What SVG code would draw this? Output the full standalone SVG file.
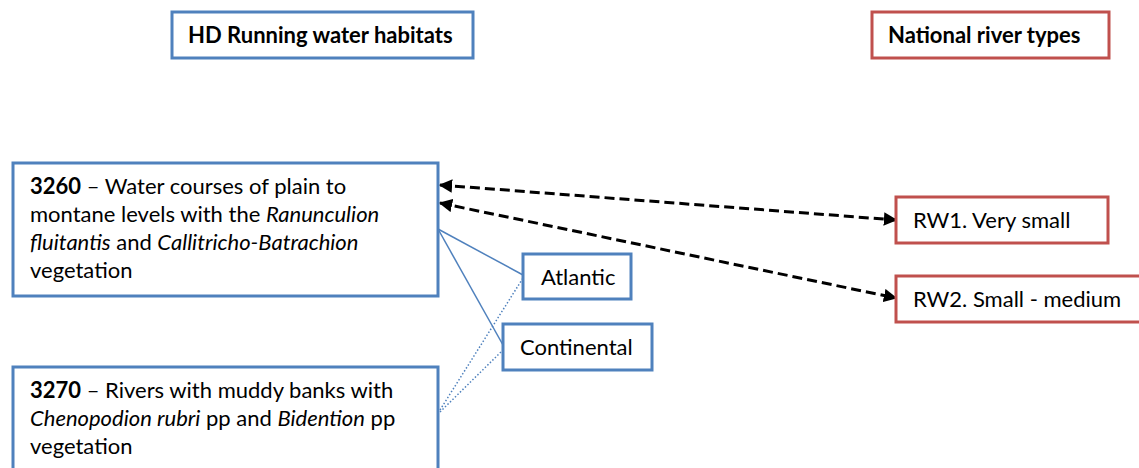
<svg xmlns="http://www.w3.org/2000/svg" width="1139" height="468" viewBox="0 0 1139 468">
<style>
text{font-family:Lato,"Liberation Sans",sans-serif;font-size:22px;fill:#000}
.b{font-weight:bold}
.i{font-style:italic}
.blue{fill:#fff;stroke:#4F81BD;stroke-width:3}
.red{fill:#fff;stroke:#C0504D;stroke-width:3}
.sl{stroke:#4F81BD;stroke-width:1.5;fill:none}
.dl{stroke:#4F81BD;stroke-width:1.5;fill:none;stroke-dasharray:1.5 2}
.da{stroke:#000;stroke-width:3;fill:none;stroke-dasharray:10 5}
</style>
<defs>
<marker id="ah" viewBox="0 0 10 10" refX="9" refY="5" markerWidth="4.5" markerHeight="4.5" orient="auto-start-reverse" markerUnits="strokeWidth">
<path d="M0,0 L10,5 L0,10 z" fill="#000"/>
</marker>
</defs>
<g id="connectors">
<line class="sl" x1="438" y1="229" x2="523" y2="275"/>
<line class="sl" x1="438" y1="229" x2="503" y2="345"/>
<line class="dl" x1="440" y1="410" x2="523" y2="278"/>
<line class="dl" x1="440" y1="412" x2="503" y2="350"/>
<line class="da" x1="440" y1="185" x2="896" y2="220" marker-start="url(#ah)" marker-end="url(#ah)"/>
<line class="da" x1="440" y1="203" x2="896" y2="298" marker-start="url(#ah)" marker-end="url(#ah)"/>
</g>
<g id="hd">
<rect class="blue" x="172" y="12" width="301" height="46"/>
<text class="b" x="188" y="43">HD Running water habitats</text>
</g>
<g id="national">
<rect class="red" x="872" y="12" width="237" height="46"/>
<text class="b" x="888" y="43">National river types</text>
</g>
<g id="h3260">
<rect class="blue" x="13" y="163" width="425" height="133"/>
<text x="30" y="194"><tspan class="b">3260</tspan> – Water courses of plain to</text>
<text x="30" y="222">montane levels with the <tspan class="i">Ranunculion</tspan></text>
<text x="30" y="250"><tspan class="i">fluitantis</tspan> and <tspan class="i">Callitricho-Batrachion</tspan></text>
<text x="30" y="278">vegetation</text>
</g>
<g id="h3270">
<rect class="blue" x="13" y="367" width="425" height="120"/>
<text x="30" y="398"><tspan class="b">3270</tspan> – Rivers with muddy banks with</text>
<text x="30" y="426"><tspan class="i">Chenopodion rubri</tspan> pp and <tspan class="i">Bidention</tspan> pp</text>
<text x="30" y="454">vegetation</text>
</g>
<g id="atlantic">
<rect class="blue" x="523" y="254" width="108" height="45"/>
<text x="541" y="285">Atlantic</text>
</g>
<g id="continental">
<rect class="blue" x="503" y="324" width="149" height="46"/>
<text x="520" y="355">Continental</text>
</g>
<g id="rw1">
<rect class="red" x="896" y="197" width="212" height="46"/>
<text x="913" y="228">RW1. Very small</text>
</g>
<g id="rw2">
<rect class="red" x="896" y="276" width="250" height="46"/>
<text x="913" y="307">RW2. Small - medium</text>
</g>
</svg>
